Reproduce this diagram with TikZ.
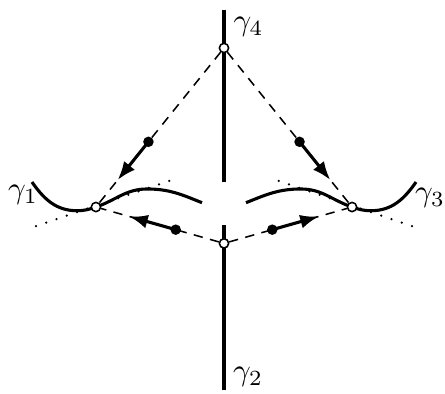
\documentclass[tikz,border=0pt]{standalone}
\usepackage{xcolor}
\usepackage{amssymb}
\usepackage{tikz}
\usetikzlibrary{arrows.meta,calc}

\begin{document}
\begin{tikzpicture}[
  thk/.style={line width=1pt},
  pt/.style={circle,draw,fill=white,line width=0.5pt,inner sep=0pt,minimum size=3pt},
  dot/.style={circle,fill=black,inner sep=0pt,minimum size=3.4pt},
  dsh/.style={line width=0.5pt,dash pattern=on 3pt off 2.4pt},
  dts/.style={line width=0.8pt,line cap=round,dash pattern=on 0pt off 3.5pt},
  arr/.style={thk,-{Latex[length=6pt,width=4.5pt]}}
]
\useasboundingbox (-2.545,-2.114) rectangle (2.511,2.352);
\coordinate (c1) at (-1.455,0);
\coordinate (c3) at (1.455,0);
\coordinate (c2) at (0,-0.413);
\coordinate (c4) at (0,1.807);
\coordinate (e4) at (0,2.239);
\coordinate (f4) at (0,0.284);
\coordinate (e2) at (0,-2.08);
\coordinate (f2) at (0,-0.205);
\draw[thk] (e4) -- (f4);
\draw[thk] (f2) -- (e2);
\draw[dts] (-2.136,-0.216) -- (-0.523,0.330);
\draw[dts] (2.136,-0.216) -- (0.523,0.330);
\draw[thk] (-2.182,0.284) to[out=-55,in=180] (-1.67,-0.042) to[out=0,in=198.7] (c1)
  to[out=18.7,in=180] (-0.875,0.205) to[out=0,in=158] (-0.25,0.049);
\draw[thk] (2.182,0.284) to[out=235,in=0] (1.67,-0.042) to[out=180,in=-18.7] (c3)
  to[out=161.3,in=0] (0.875,0.205) to[out=180,in=22] (0.25,0.049);
\node[pt] (p1) at (c1) {};
\node[pt] (p2) at (c2) {};
\node[pt] (p3) at (c3) {};
\node[pt] (p4) at (c4) {};
\draw[dsh] (p4) -- (p1);
\draw[dsh] (p4) -- (p3);
\draw[dsh] (p2) -- (p1);
\draw[dsh] (p2) -- (p3);
\node[dot] (d41) at ($(c4)!0.59!(c1)$) {};
\node[dot] (d43) at ($(c4)!0.59!(c3)$) {};
\node[dot] (d21) at ($(c2)!0.377!(c1)$) {};
\node[dot] (d23) at ($(c2)!0.377!(c3)$) {};
\coordinate (a41) at ($(c4)!0.83!(c1)$);
\coordinate (a43) at ($(c4)!0.83!(c3)$);
\coordinate (a21) at ($(c2)!0.74!(c1)$);
\coordinate (a23) at ($(c2)!0.74!(c3)$);
\draw[arr] (d41.center) -- (a41);
\draw[arr] (d43.center) -- (a43);
\draw[arr] (d21.center) -- (a21);
\draw[arr] (d23.center) -- (a23);
\node (g1) at (-2.284,0.136) {$\gamma_1$};
\node (g3) at (2.341,0.102) {$\gamma_3$};
\node (g4) at (0.278,2.045) {$\gamma_4$};
\node (g2) at (0.273,-1.932) {$\gamma_2$};
\end{tikzpicture}
\end{document}
